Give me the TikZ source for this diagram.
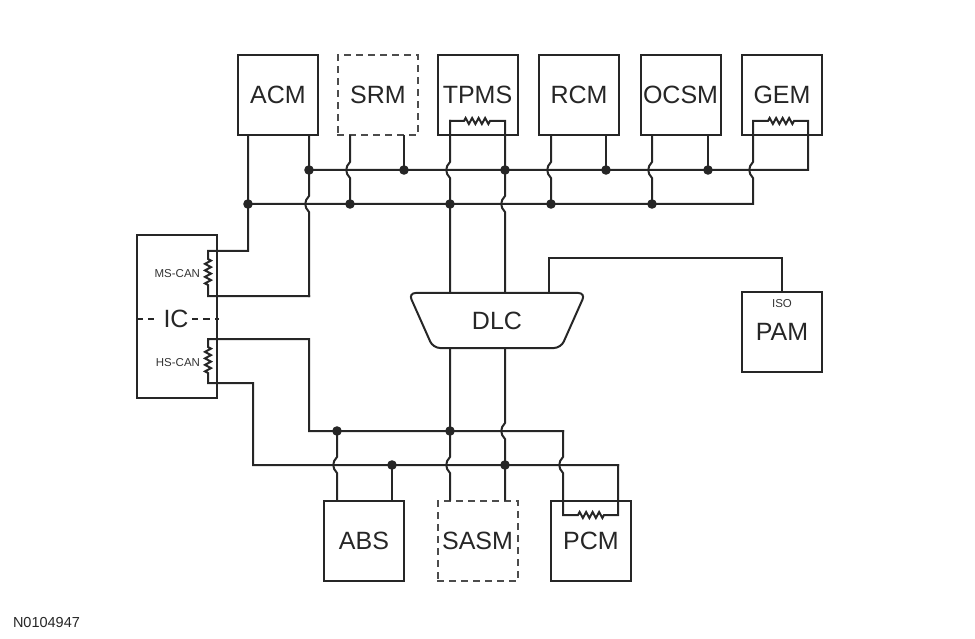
\documentclass[tikz,border=0pt]{standalone}
\usepackage{fontspec}
\setmainfont{Liberation Sans}
\usetikzlibrary{positioning,shapes.geometric,decorations.pathmorphing}
\tikzset{%
	module/.style   = {draw, rectangle, minimum width=80pt, minimum height=80pt, inner sep=0pt, font=\fontsize{25}{28}\selectfont},
	optional/.style = {module, draw=black!70, dash pattern=on 5pt off 7pt},
	small/.style    = {inner sep=0pt, text=black!80, font=\fontsize{11.5}{13}\selectfont},
	resistor/.style = {decoration={zigzag, segment length=6.5pt, amplitude=3pt}},
	wirehop/.style  = {to path={.. controls +(-5,5) and +(-5,-5) .. (\tikztotarget)}},
}
\begin{document}
\begin{tikzpicture}[x=1pt,y=-1pt,line width=2pt,line cap=rect,draw=black!85,text=black!85]
	\useasboundingbox (0,0) rectangle (975,639);
	% modules
	\node[module] (ACM) at (278,95) {ACM};
	\node[optional] (SRM) at (378,95) {SRM};
	\node[module] (TPMS) at (477.5,95) {TPMS};
	\node[module] (RCM) at (579,95) {RCM};
	\node[module] (OCSM) at (680.5,95) {OCSM};
	\node[module] (GEM) at (782,95) {GEM};
	\node[module, minimum height=163pt] (IC) at (177,316.5) {};
	\node[inner sep=3pt, font=\fontsize{25}{28}\selectfont] (ictxt) at (176,319) {IC};
	\node[small, anchor=east] (mscan) at (201,274) {MS-CAN};
	\node[small, anchor=east] (hscan) at (201,363) {HS-CAN};
	\node[draw, trapezium, trapezium left angle=66, trapezium right angle=66, shape border rotate=180, minimum width=176pt, minimum height=55pt, rounded corners=7pt, font=\fontsize{25}{28}\selectfont] (DLC) at (497,320.5) {DLC};
	\node[module] (PAM) at (782,332) {PAM};
	\node[small, below=7pt of PAM.north] (iso) {ISO};
	\node[module] (ABS) at (364,540.5) {ABS};
	\node[optional] (SASM) at (477.5,540.5) {SASM};
	\node[module] (PCM) at (591,540.5) {PCM};
	\node[anchor=west, inner sep=0pt, font=\fontsize{14.5}{16}\selectfont] (fig) at (12,623) {N0104947};
	\draw[dash pattern=on 4.5pt off 7pt] ([xshift=1pt]IC.west |- ictxt) -- (ictxt.west);
	\draw[dash pattern=on 4.5pt off 7pt] (ictxt.east) -- (IC.east |- ictxt);
	% MS-CAN
	\draw (309,170) -- (808,170) -- (808,121) -- (794,121) decorate[resistor]{-- (767,121)} -- (753,121) -- (753,162) to[wirehop] (753,178) -- (753,204) -- (248,204);
	\draw ([xshift=-30pt]ACM.south) -- (248,251) -- (208,251) -- (208,259) decorate[resistor]{-- (208,286)} -- (208,296) -- (309,296);
	\draw ([xshift=31pt]ACM.south) -- (309,196) to[wirehop] (309,212) -- (309,296);
	\draw ([xshift=-28pt]SRM.south) -- (350,162) to[wirehop] (350,178) -- (350,204);
	\draw ([xshift=26pt]SRM.south) -- (404,170);
	\draw (450,121) -- (450,162) to[wirehop] (450,178) -- ([xshift=-47pt]DLC.north);
	\draw (450,121) -- (464,121) decorate[resistor]{-- (491,121)} -- (505,121) -- (505,196) to[wirehop] (505,212) -- ([xshift=8pt]DLC.north);
	\draw ([xshift=-28pt]RCM.south) -- (551,162) to[wirehop] (551,178) -- (551,204);
	\draw ([xshift=27pt]RCM.south) -- (606,170);
	\draw ([xshift=-28.5pt]OCSM.south) -- (652,162) to[wirehop] (652,178) -- (652,204);
	\draw ([xshift=27.5pt]OCSM.south) -- (708,170);
	% ISO
	\draw ([xshift=52pt]DLC.north) -- ++(0,-34) -| (PAM.north);
	% HS-CAN
	\draw (563,431) -- (309,431) -- (309,339) -- (208,339) -- (208,347) decorate[resistor]{-- (208,374)} -- (208,383) -- (253,383) -- (253,465) -- (618,465);
	\draw (563,431) -- (563,457) to[wirehop] (563,473) -- (563,515) -- (578,515) decorate[resistor]{-- (604,515)} -- (618,515) -- (618,465);
	\draw (337,431) -- (337,457) to[wirehop] (337,473) -- ([xshift=-27pt]ABS.north);
	\draw (392,465) -- ([xshift=28pt]ABS.north);
	\draw ([xshift=-47pt]DLC.south) -- (450,457) to[wirehop] (450,473) -- ([xshift=-27.5pt]SASM.north);
	\draw ([xshift=8pt]DLC.south) -- (505,423) to[wirehop] (505,439) -- ([xshift=27.5pt]SASM.north);
	% splices
	\foreach \p in {(309,170),(404,170),(505,170),(606,170),(708,170),(248,204),(350,204),(450,204),(551,204),(652,204),(337,431),(450,431),(392,465),(505,465)}
		\fill[black!85] \p circle (4.8);
\end{tikzpicture}
\end{document}
